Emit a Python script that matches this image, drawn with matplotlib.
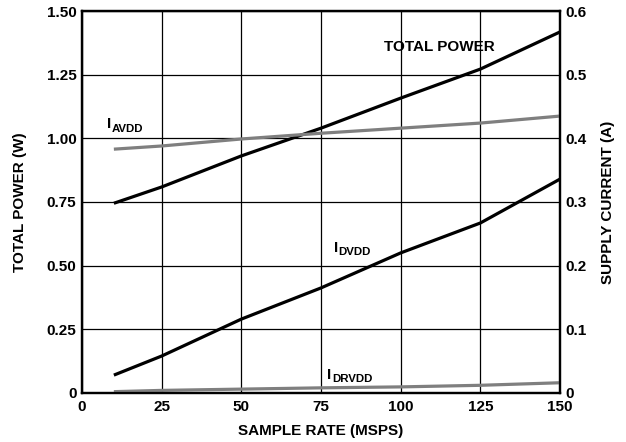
"""Total power and supply currents vs. sample rate."""

import matplotlib

matplotlib.use("Agg")
import matplotlib.pyplot as plt  # noqa: E402

plt.rcParams["font.family"] = ["Liberation Sans", "DejaVu Sans"]
plt.rcParams["font.weight"] = "bold"

# sample rate (MSPS)
rate = [10, 25, 50, 75, 100, 125, 150]
# total power (W), left axis
total_power = [0.745, 0.809, 0.931, 1.040, 1.158, 1.272, 1.418]
# supply currents (A), right axis
i_avdd = [0.383, 0.388, 0.399, 0.408, 0.416, 0.424, 0.435]
i_dvdd = [0.028, 0.058, 0.116, 0.165, 0.220, 0.267, 0.336]
i_drvdd = [0.002, 0.004, 0.006, 0.008, 0.0095, 0.012, 0.016]

x_ticks = [0, 25, 50, 75, 100, 125, 150]
left_ticks = [0, 0.25, 0.50, 0.75, 1.00, 1.25, 1.50]
left_labels = ["0", "0.25", "0.50", "0.75", "1.00", "1.25", "1.50"]
right_ticks = [0, 0.1, 0.2, 0.3, 0.4, 0.5, 0.6]
right_labels = ["0", "0.1", "0.2", "0.3", "0.4", "0.5", "0.6"]

BLACK = "#000000"
GRAY = "#7f7f7f"
FS = 11


def sub_label(ax, x, y, main, sub):
    """Draw 'I' with a bold subscript (separate texts keep the spacing tight)."""
    t = ax.text(x, y, main, fontsize=FS, fontweight="bold", ha="left", va="baseline")
    ax.annotate(sub, xy=(x, y), xytext=(3.3, -2.5), textcoords="offset points",
                fontsize=FS * 0.75, fontweight="bold", ha="left", va="baseline")
    return t


fig = plt.figure(figsize=(6.26, 4.42), dpi=100)
ax = fig.add_axes([0.131, 0.111, 0.7636, 0.864])
ax2 = ax.twinx()

ax.set_xlim(0, 150)
ax.set_ylim(0, 1.5)
ax2.set_ylim(0, 0.6)

ax.set_xticks(x_ticks)
ax.set_xticklabels([str(v) for v in x_ticks], fontsize=FS, fontweight="bold")
ax.set_yticks(left_ticks)
ax.set_yticklabels(left_labels, fontsize=FS, fontweight="bold")
ax2.set_yticks(right_ticks)
ax2.set_yticklabels(right_labels, fontsize=FS, fontweight="bold")
for a in (ax, ax2):
    a.tick_params(length=0, pad=4)
    for s in a.spines.values():
        s.set_linewidth(1.6)
        s.set_color(BLACK)
ax.tick_params(axis="x", pad=5)

ax.grid(True, color=BLACK, linewidth=0.9)
ax.set_axisbelow(True)

ax2.plot(rate, i_avdd, color=GRAY, linewidth=2.3, solid_capstyle="butt")
ax2.plot(rate, i_drvdd, color=GRAY, linewidth=2.3, solid_capstyle="butt")
ax2.plot(rate, i_dvdd, color=BLACK, linewidth=2.3, solid_capstyle="butt")
ax.plot(rate, total_power, color=BLACK, linewidth=2.3, solid_capstyle="butt")

ax.set_xlabel("SAMPLE RATE (MSPS)", fontsize=FS, fontweight="bold", labelpad=7)
ax.set_ylabel("TOTAL POWER (W)", fontsize=FS, fontweight="bold", labelpad=14)
ax2.set_ylabel("SUPPLY CURRENT (A)", fontsize=FS, fontweight="bold", labelpad=10)

ax.text(112, 1.36, "TOTAL POWER", fontsize=FS, fontweight="bold", ha="center", va="center")
sub_label(ax, 7.8, 1.04, "I", "AVDD")
sub_label(ax, 79, 0.555, "I", "DVDD")
sub_label(ax, 77, 0.055, "I", "DRVDD")

fig.savefig("out.png", dpi=100)
